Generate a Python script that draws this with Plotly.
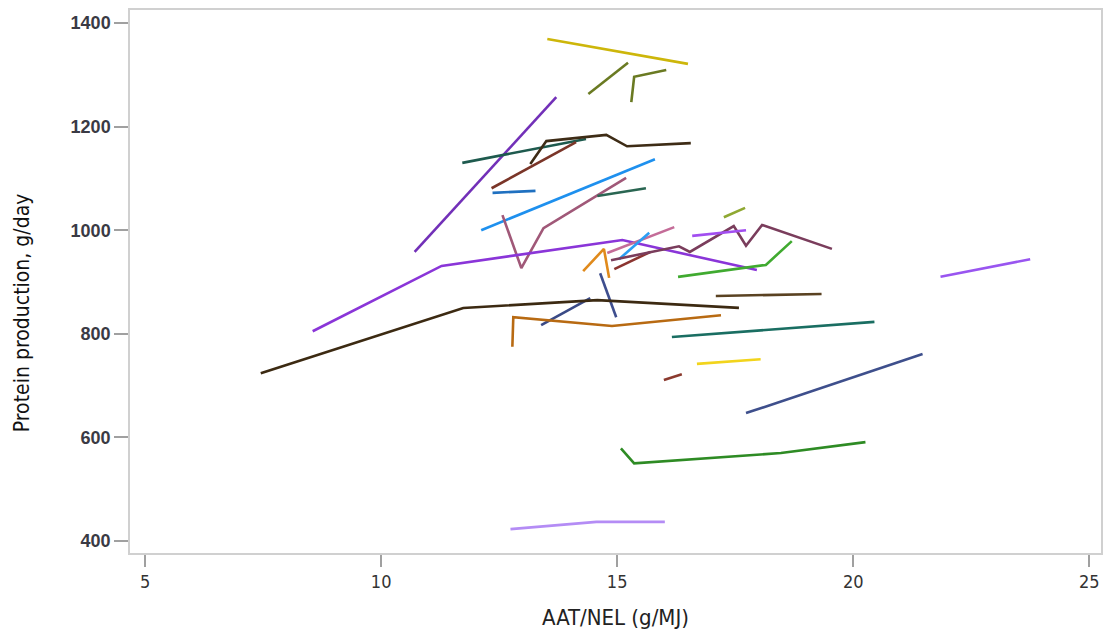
import plotly.graph_objects as go

# Each series: x values (AAT/NEL, g/MJ) and y values (protein production, g/day)
s01_x = [13.52, 16.50];                      s01_y = [1369, 1321]
s02_x = [14.39, 15.23];                      s02_y = [1263, 1323]
s03_x = [15.30, 15.36, 16.04];               s03_y = [1247, 1296, 1309]
s04_x = [10.71, 13.71];                      s04_y = [958, 1257]
s05_x = [11.72, 14.34];                      s05_y = [1130, 1176]
s06_x = [13.16, 13.50, 14.77, 15.21, 16.56]; s06_y = [1128, 1172, 1184, 1162, 1168]
s07_x = [12.34, 14.13];                      s07_y = [1081, 1170]
s08_x = [12.36, 13.27];                      s08_y = [1072, 1076]
s09_x = [12.12, 15.80];                      s09_y = [1000, 1137]
s10_x = [12.57, 12.97, 13.44, 15.19];        s10_y = [1029, 927, 1004, 1101]
s11_x = [14.58, 15.61];                      s11_y = [1066, 1081]
s12_x = [8.55, 11.28, 15.11, 17.96];         s12_y = [805, 931, 981, 923]
s13_x = [14.28, 14.72, 14.83];               s13_y = [921, 964, 908]
s14_x = [14.64, 14.98];                      s14_y = [917, 832]
s15_x = [13.39, 14.43];                      s15_y = [817, 869]
s16_x = [14.79, 16.21];                      s16_y = [956, 1006]
s17_x = [15.04, 15.68];                      s17_y = [944, 995]
s18_x = [14.94, 15.70];                      s18_y = [925, 958]
s19_x = [14.87, 16.31, 16.54, 17.47, 17.73, 18.07, 19.55]
s19_y = [942, 969, 958, 1008, 970, 1010, 964]
s20_x = [16.59, 17.73];                      s20_y = [989, 1000]
s21_x = [16.29, 18.15, 18.70];               s21_y = [910, 933, 979]
s22_x = [17.26, 17.71];                      s22_y = [1025, 1043]
s23_x = [17.09, 19.33];                      s23_y = [873, 877]
s24_x = [7.45, 11.74, 14.58, 17.58];         s24_y = [724, 850, 865, 850]
s25_x = [12.78, 12.80, 14.89, 17.20];        s25_y = [775, 832, 815, 836]
s26_x = [16.16, 20.45];                      s26_y = [794, 823]
s27_x = [16.69, 18.04];                      s27_y = [742, 751]
s28_x = [15.99, 16.37];                      s28_y = [711, 722]
s29_x = [17.73, 21.47];                      s29_y = [647, 761]
s30_x = [15.08, 15.36, 18.47, 20.26];        s30_y = [579, 550, 570, 591]
s31_x = [12.74, 14.56, 16.01];               s31_y = [423, 437, 437]
s32_x = [21.85, 23.75];                      s32_y = [910, 944]

series = [
    (s01_x, s01_y, '#CDB60A'), (s02_x, s02_y, '#6A7A22'), (s03_x, s03_y, '#6A7A22'),
    (s04_x, s04_y, '#7230B8'), (s05_x, s05_y, '#1E5A4E'), (s06_x, s06_y, '#3E2C16'),
    (s07_x, s07_y, '#7A3528'), (s08_x, s08_y, '#1F70C0'), (s09_x, s09_y, '#1E90EE'),
    (s10_x, s10_y, '#A05878'), (s11_x, s11_y, '#2A6652'), (s12_x, s12_y, '#8A35D8'),
    (s13_x, s13_y, '#E08A1C'), (s14_x, s14_y, '#3E4E8E'), (s15_x, s15_y, '#3A4A86'),
    (s16_x, s16_y, '#C46C98'), (s17_x, s17_y, '#2A9EF4'), (s18_x, s18_y, '#8B3430'),
    (s19_x, s19_y, '#7A3D5C'), (s20_x, s20_y, '#A24EF0'), (s21_x, s21_y, '#40AA30'),
    (s22_x, s22_y, '#8FA832'), (s23_x, s23_y, '#5A4222'), (s24_x, s24_y, '#3C2A12'),
    (s25_x, s25_y, '#B86A12'), (s26_x, s26_y, '#1A6E62'), (s27_x, s27_y, '#F2D41C'),
    (s28_x, s28_y, '#8B3A2E'), (s29_x, s29_y, '#3E4F8C'), (s30_x, s30_y, '#2E8B24'),
    (s31_x, s31_y, '#B48CF5'), (s32_x, s32_y, '#9955F0'),
]

x_ticks = [5, 10, 15, 20, 25]
y_ticks = [400, 600, 800, 1000, 1200, 1400]

narrow = 'DejaVu Sans Condensed, Liberation Sans Narrow, Roboto, sans-serif'

fig = go.Figure()
for xs, ys, col in series:
    fig.add_trace(go.Scatter(x=xs, y=ys, mode='lines',
                             line=dict(color=col, width=2.6),
                             showlegend=False, hoverinfo='skip'))

fig.update_layout(
    width=1105, height=637,
    margin=dict(l=130, r=2, t=10, b=84),
    plot_bgcolor='white', paper_bgcolor='white',
    xaxis=dict(range=[4.68, 25.25], tickvals=x_ticks, showgrid=False, zeroline=False,
               showline=True, linecolor='#D0D0D0', linewidth=1.5, mirror=True,
               ticks='outside', ticklen=12, tickcolor='#A0A0A0', tickwidth=1.5,
               tickfont=dict(family=narrow, size=18, color='#333333'),
               title=dict(text='AAT/NEL (g/MJ)', standoff=18,
                          font=dict(family=narrow, size=22, color='#222222'))),
    yaxis=dict(range=[377, 1425], tickvals=y_ticks, showgrid=False, zeroline=False,
               showline=True, linecolor='#D0D0D0', linewidth=1.5, mirror=True,
               ticks='outside', ticklen=14, tickcolor='#A0A0A0', tickwidth=1.5,
               tickfont=dict(family='Liberation Sans, Arial, sans-serif', size=18,
                             color='#3a3a44', weight='bold')),
    annotations=[dict(text='Protein production, g/day', textangle=-90,
                      xref='paper', yref='paper', x=-0.111, y=0.442,
                      xanchor='center', yanchor='middle', showarrow=False,
                      font=dict(family=narrow, size=21, color='#111111'))],
)

fig.write_html('out.html')
